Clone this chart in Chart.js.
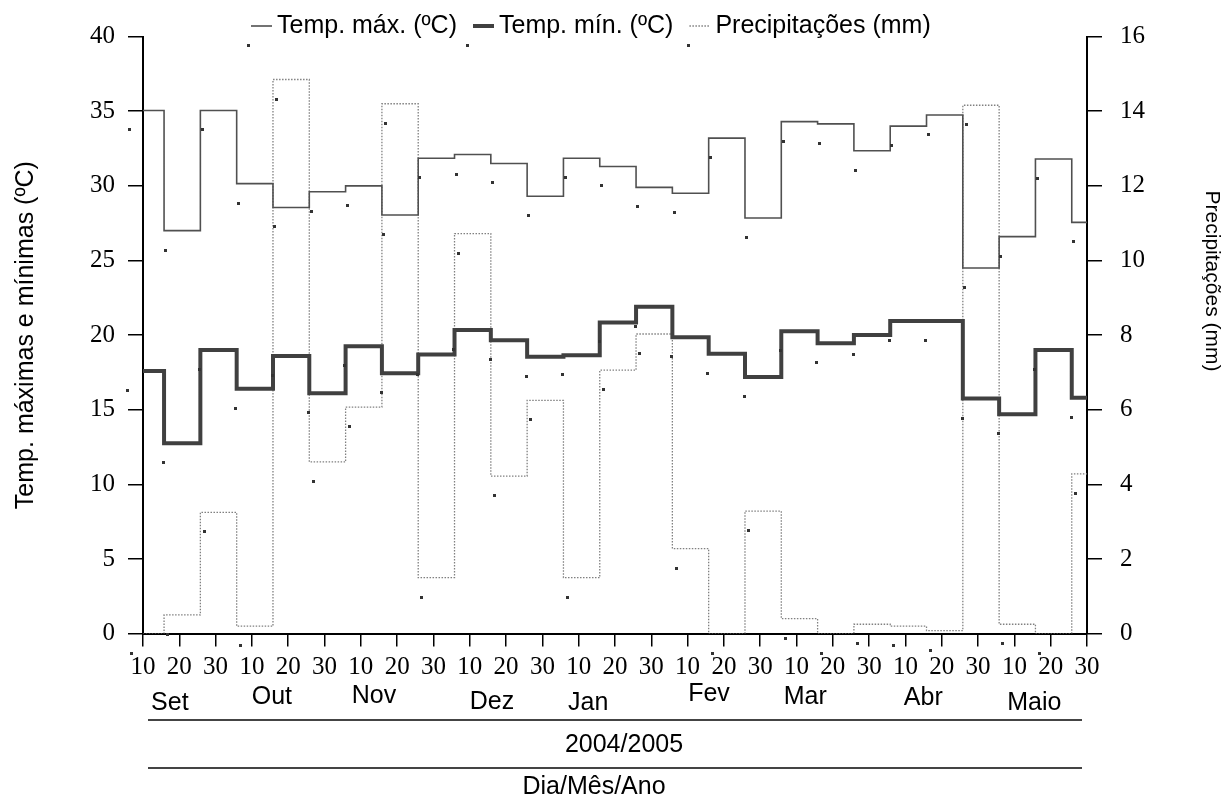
<!DOCTYPE html>
<html lang="pt">
<head>
<meta charset="utf-8">
<title>Temperaturas e precipitações 2004/2005</title>
<script src="https://cdn.jsdelivr.net/npm/chart.js@4.4.1/dist/chart.umd.min.js"></script>
<style>
  html, body { margin: 0; padding: 0; background: #fff; }
  #chart { display: block; }
</style>
</head>
<body>
<canvas id="chart" width="1225" height="798"></canvas>
<script>
// --- dados por decêndio, Set/2004 a Maio/2005 ---
const dayLabels = ["10", "20", "30"];
const months = ["Set", "Out", "Nov", "Dez", "Jan", "Fev", "Mar", "Abr", "Maio"];

const tempMax = [35.05, 27.0, 35.05, 30.15, 28.55, 29.6, 30.0, 28.05, 31.85, 32.1, 31.5, 29.3, 31.85, 31.3,
  29.9, 29.5, 33.2, 27.85, 34.3, 34.15, 32.35, 34.0, 34.75, 24.5, 26.6, 31.8, 27.55];
const tempMin = [17.6, 12.75, 19.0, 16.4, 18.6, 16.1, 19.25, 17.45, 18.7, 20.35, 19.65, 18.55, 18.65, 20.85,
  21.9, 19.85, 18.75, 17.2, 20.25, 19.45, 20.0, 20.95, 20.95, 15.75, 14.7, 19.0, 15.8];
const precip = [0, 0.5, 3.25, 0.2, 14.85, 4.6, 6.07, 14.2, 1.5, 10.72, 4.22, 6.25, 1.5, 7.06,
  8.03, 2.28, 0, 3.28, 0.4, 0, 0.25, 0.2, 0.08, 14.16, 0.25, 0, 4.28];

const SANS = '"Liberation Sans", Arial, sans-serif';
const SERIF = '"Liberation Serif", "Times New Roman", serif';

// each series: line style + where its (shifted) marker squares land
const series = [
  { label: "Temp. máx. (ºC)", data: tempMax, axis: "y", color: "#505050", width: 1.6, dash: [], markDx: -13.5 },
  { label: "Temp. mín. (ºC)", data: tempMin, axis: "y", color: "#404040", width: 4, dash: [], markDx: -16 },
  { label: "Precipitações (mm)", data: precip, axis: "y2", color: "#808080", width: 1.3, dash: [1.5, 1.5], markDx: -11.5 }
];
const MARK_DY = 19.5;

// step edges sit a bit past the midpoint between decêndios
function stepPoints(values) {
  const pts = values.map((v, i) => ({ x: i - 0.42, y: v }));
  pts.push({ x: values.length - 0.42, y: values[values.length - 1] });
  return pts;
}

function dot(ctx, x, y) {
  ctx.fillRect(Math.round(x - 1.5), Math.round(y - 1.5), 3, 3);
}

const extras = {
  id: "extras",
  afterDraw(chart) {
    const { ctx, scales } = chart;
    const xs = scales.x;

    // --- marker squares ---
    ctx.save();
    ctx.fillStyle = "#333";
    series.forEach(s => {
      const ys = scales[s.axis];
      s.data.forEach((v, i) => {
        dot(ctx, xs.getPixelForValue(i) + s.markDx, ys.getPixelForValue(v) + MARK_DY);
      });
    });
    ctx.restore();

    // --- legend ---
    ctx.save();
    ctx.font = `25px ${SANS}`;
    ctx.textBaseline = "middle";
    ctx.fillStyle = "#000";
    let lx = 251;
    const ly = 26;
    series.forEach(s => {
      ctx.save();
      ctx.strokeStyle = s.color;
      ctx.lineWidth = s.width;
      ctx.setLineDash(s.dash);
      ctx.beginPath();
      ctx.moveTo(lx, ly);
      ctx.lineTo(lx + 21, ly);
      ctx.stroke();
      ctx.fillStyle = "#333";
      dot(ctx, lx + 10.5 + s.markDx, ly + MARK_DY);
      ctx.restore();
      ctx.fillText(s.label, lx + 26, ly);
      lx += 26 + ctx.measureText(s.label).width + 16;
    });
    ctx.restore();

    // --- month names, period and axis caption ---
    const monthPos = [0.74, 3.55, 6.36, 9.61, 12.26, 15.59, 18.24, 21.49, 24.55];
    const monthY = [703, 697, 696, 702, 703, 694, 697, 698, 703];
    ctx.save();
    ctx.font = `25px ${SANS}`;
    ctx.textAlign = "center";
    ctx.textBaseline = "middle";
    ctx.fillStyle = "#000";
    months.forEach((m, i) => ctx.fillText(m, xs.getPixelForValue(monthPos[i]), monthY[i]));

    ctx.strokeStyle = "#444";
    ctx.lineWidth = 2;
    [720, 768].forEach(y => {
      ctx.beginPath();
      ctx.moveTo(148, y);
      ctx.lineTo(1082, y);
      ctx.stroke();
    });
    ctx.fillText("2004/2005", 624, 745);
    ctx.fillText("Dia/Mês/Ano", 594, 787);

    // right axis caption
    ctx.font = `21px ${SANS}`;
    ctx.translate(1212, 281);
    ctx.rotate(Math.PI / 2);
    ctx.fillText("Precipitações (mm)", 0, 0);
    ctx.restore();
  }
};

const tickFont = { family: SERIF, size: 25 };

new Chart(document.getElementById("chart"), {
  type: "line",
  data: {
    datasets: series.map(s => ({
      label: s.label,
      data: stepPoints(s.data),
      yAxisID: s.axis,
      borderColor: s.color,
      borderWidth: s.width,
      borderDash: s.dash,
      stepped: "before",
      pointRadius: 0,
      fill: false
    }))
  },
  options: {
    responsive: false,
    animation: false,
    layout: { padding: { top: 36.6, left: 0, right: 0, bottom: 0 } },
    plugins: {
      legend: { display: false },
      tooltip: { enabled: false }
    },
    scales: {
      x: {
        type: "linear",
        min: 0,
        max: 26,
        ticks: {
          stepSize: 1,
          autoSkip: false,
          maxTicksLimit: 40,
          maxRotation: 0,
          padding: 6,
          color: "#000",
          font: tickFont,
          callback: v => dayLabels[v % 3]
        },
        grid: { drawOnChartArea: false, tickLength: 13, color: "#000", lineWidth: 1.5 },
        border: { color: "#000", width: 2 },
        afterFit: s => { s.height = 164.4; }
      },
      y: {
        position: "left",
        min: 0,
        max: 40,
        ticks: { stepSize: 5, padding: 13, color: "#000", font: tickFont },
        grid: { drawOnChartArea: false, tickLength: 15, color: "#000", lineWidth: 1.5 },
        border: { color: "#000", width: 2 },
        title: {
          display: true,
          text: "Temp. máximas e mínimas (ºC)",
          color: "#000",
          font: { family: SANS, size: 25 },
          padding: { top: 11, bottom: 0 }
        },
        afterFit: s => { s.width = 143; }
      },
      y2: {
        position: "right",
        min: 0,
        max: 16,
        ticks: { stepSize: 2, padding: 18, color: "#000", font: tickFont },
        grid: { drawOnChartArea: false, tickLength: 15, color: "#000", lineWidth: 1.5 },
        border: { color: "#000", width: 2 },
        afterFit: s => { s.width = 138; }
      }
    }
  },
  plugins: [extras]
});
</script>
</body>
</html>
